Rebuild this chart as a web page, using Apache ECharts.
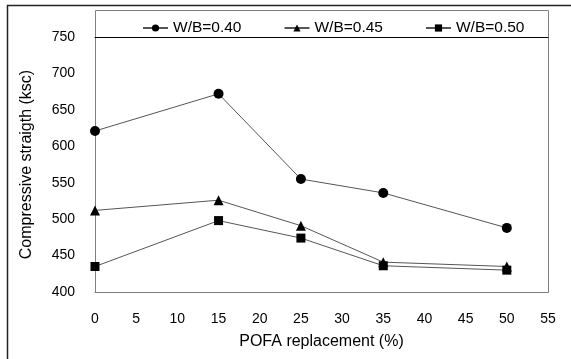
<!DOCTYPE html>
<html><head><meta charset="utf-8">
<script src="https://cdn.jsdelivr.net/npm/echarts@6/dist/echarts.min.js"></script>
<style>html,body{margin:0;padding:0;background:#fff}#c{width:571px;height:359px}</style>
</head><body><div id="c"></div>
<script>
const xValues = [0, 15, 25, 35, 50];
const wb040 = [621, 672, 555, 536, 488];
const wb045 = [512, 526, 491, 441, 435];
const wb050 = [435, 498, 474, 436, 430];
const seriesNames = ['W/B=0.40', 'W/B=0.45', 'W/B=0.50'];
const xTitle = 'POFA replacement (%)';
const yTitle = 'Compressive straigth (ksc)';

const font = 'Liberation Sans, Arial, sans-serif';
function mk(name, vals, sym, size) {
  return {
    name: name, type: 'line', data: xValues.map((x, i) => [x, vals[i]]),
    symbol: sym, symbolSize: size,
    lineStyle: {color: '#555', width: 1},
    itemStyle: {color: '#000'},
    animation: false
  };
}
const chart = echarts.init(document.getElementById('c'), null, {renderer: 'canvas'});
chart.setOption({
  animation: false,
  textStyle: {fontFamily: font},
  grid: {left: 95, right: 23, top: 37, bottom: 67},
  legend: {
    data: seriesNames, top: 15, left: 137, itemGap: 42, itemWidth: 25, itemHeight: 9,
    textStyle: {fontFamily: font, fontSize: 15.5, color: '#000'}
  },
  xAxis: [{
    type: 'value', min: 0, max: 55, interval: 5,
    axisLine: {lineStyle: {color: '#808080', width: 1}},
    axisTick: {show: false}, splitLine: {show: false},
    axisLabel: {fontSize: 14, color: '#000', margin: 20, fontFamily: font},
    name: xTitle, nameLocation: 'middle', nameGap: 42,
    nameTextStyle: {fontSize: 16, color: '#000', fontFamily: font}
  }, {
    type: 'value', position: 'top', min: 0, max: 55,
    axisLine: {show: true, lineStyle: {color: '#000', width: 1}},
    axisTick: {show: false}, axisLabel: {show: false}, splitLine: {show: false}
  }],
  yAxis: {
    type: 'value', min: 400, max: 750, interval: 50,
    axisLine: {show: true, lineStyle: {color: '#808080', width: 1}},
    axisTick: {show: false}, splitLine: {show: false},
    axisLabel: {fontSize: 14, color: '#000', margin: 20, fontFamily: font},
    name: yTitle, nameLocation: 'middle', nameGap: 60,
    nameTextStyle: {fontSize: 16, color: '#000', fontFamily: font}
  },
  graphic: [
    {type: 'rect', shape: {x: 7.5, y: 5.5, width: 700, height: 500}, style: {fill: 'none', stroke: '#222', lineWidth: 1.5}, silent: true, z: -1},
    {type: 'rect', shape: {x: 95.5, y: 10.5, width: 453, height: 282}, style: {fill: 'none', stroke: '#808080', lineWidth: 1}, silent: true, z: -1}
  ],
  series: [
    mk(seriesNames[0], wb040, 'circle', 10),
    mk(seriesNames[1], wb045, 'triangle', 10),
    mk(seriesNames[2], wb050, 'rect', 9)
  ]
});
</script></body></html>
